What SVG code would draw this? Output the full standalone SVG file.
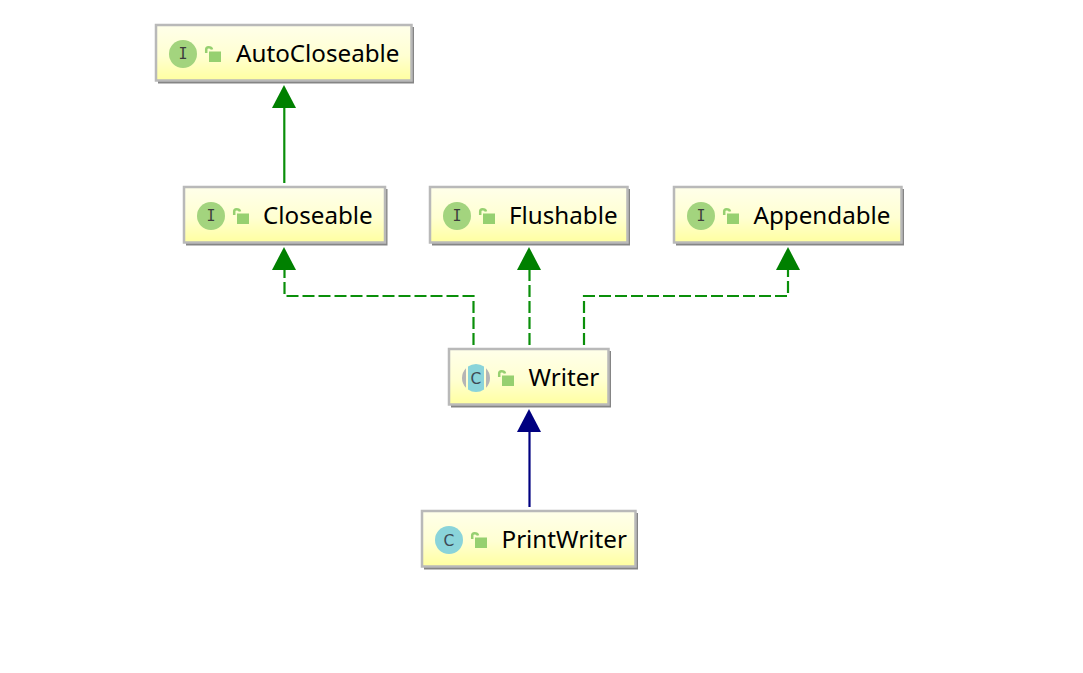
<svg xmlns="http://www.w3.org/2000/svg" width="1083" height="673" viewBox="0 0 1083 673">
<style>
.box{fill:url(#g);stroke:#b9b9b9;stroke-width:2.500}
.sh{fill:#858585}
.t{font-family:"Noto Sans","Open Sans",sans-serif;font-size:24.200px;fill:#000}
.l{font-family:"DejaVu Sans Mono",monospace;font-size:15px;fill:#3c3c3c;text-anchor:middle}
.c{font-family:"DejaVu Sans",sans-serif;font-size:15.500px;fill:#3d4a55;text-anchor:middle}
.lb{fill:#96d070}
.ls{fill:none;stroke:#96d070;stroke-width:2.500}
.ci{fill:#a3d47e}
.cc{fill:#8ad4da}
.e{fill:none;stroke-width:2.200}
.g{stroke:#0a8f0a}
.d{stroke-dasharray:12 4}
</style>
<defs>
<linearGradient id="g" x1="0" y1="0" x2="0" y2="1"><stop offset="0" stop-color="#ffffea"/><stop offset="0.55" stop-color="#ffffd2"/><stop offset="1" stop-color="#ffffa0"/></linearGradient>
<g id="lock"><rect class="lb" x="4" y="5.500" width="12" height="10.500"/><path class="ls" d="M1.200 7V3.500Q1.200 1.200 3.500 1.200Q6.500 1.200 7 3.500"/></g>
</defs>
<rect width="1083" height="673" fill="#fff"/>
<g id="connectors">
<path class="e g" d="M284.300 183V108"/><path fill="#008000" d="M284 85l12 23h-24z"/>
<path class="e g d" d="M473.500 345V296H284.500V270"/><path fill="#008000" d="M284 247l12 23h-24z"/>
<path class="e g d" d="M529.500 345V270"/><path fill="#008000" d="M529 247l12 23h-24z"/>
<path class="e g d" d="M584 345V296H788V270"/><path fill="#008000" d="M788 247l12 23h-24z"/>
<path class="e" stroke="#000080" d="M529.500 507V432"/><path fill="#000080" d="M529 409l12 23h-24z"/>
</g>
<g id="AutoCloseable"><rect class="sh" x="158" y="27" width="256" height="56.500"/><rect class="box" x="156" y="25" width="255.500" height="55.500"/><circle class="ci" cx="183" cy="54" r="14"/><text class="l" x="183" y="59">I</text><use href="#lock" x="205" y="46"/><text class="t" x="236" y="62">AutoCloseable</text></g>
<g id="Closeable"><rect class="sh" x="186" y="189" width="201.500" height="56.500"/><rect class="box" x="184" y="187" width="201" height="55.500"/><circle class="ci" cx="211" cy="216" r="14"/><text class="l" x="211" y="221">I</text><use href="#lock" x="233" y="208"/><text class="t" x="263" y="224">Closeable</text></g>
<g id="Flushable"><rect class="sh" x="432" y="189" width="198" height="56.500"/><rect class="box" x="430" y="187" width="197.500" height="55.500"/><circle class="ci" cx="457" cy="216" r="14"/><text class="l" x="457" y="221">I</text><use href="#lock" x="479" y="208"/><text class="t" x="509" y="224">Flushable</text></g>
<g id="Appendable"><rect class="sh" x="676" y="189" width="228" height="56.500"/><rect class="box" x="674" y="187" width="227.500" height="55.500"/><circle class="ci" cx="701" cy="216" r="14"/><text class="l" x="701" y="221">I</text><use href="#lock" x="723" y="208"/><text class="t" x="753.500" y="224">Appendable</text></g>
<g id="Writer"><rect class="sh" x="451" y="351" width="160" height="56.500"/><rect class="box" x="449" y="349" width="159.500" height="55.500"/><path fill="#b5b5b5" d="M466 368.200A14 14 0 0 0 466 387.800ZM486 368.200A14 14 0 0 1 486 387.800Z"/><path class="cc" d="M468 366.500A14 14 0 0 1 484 366.500V389.500A14 14 0 0 1 468 389.500Z"/><text class="c" x="476" y="384">C</text><use href="#lock" x="498" y="370"/><text class="t" x="528.500" y="386">Writer</text></g>
<g id="PrintWriter"><rect class="sh" x="424" y="513" width="214" height="56.500"/><rect class="box" x="422" y="511" width="213.500" height="55.500"/><circle class="cc" cx="449" cy="540" r="14"/><text class="c" x="449" y="546">C</text><use href="#lock" x="471" y="532"/><text class="t" x="501.500" y="548">PrintWriter</text></g>
</svg>
